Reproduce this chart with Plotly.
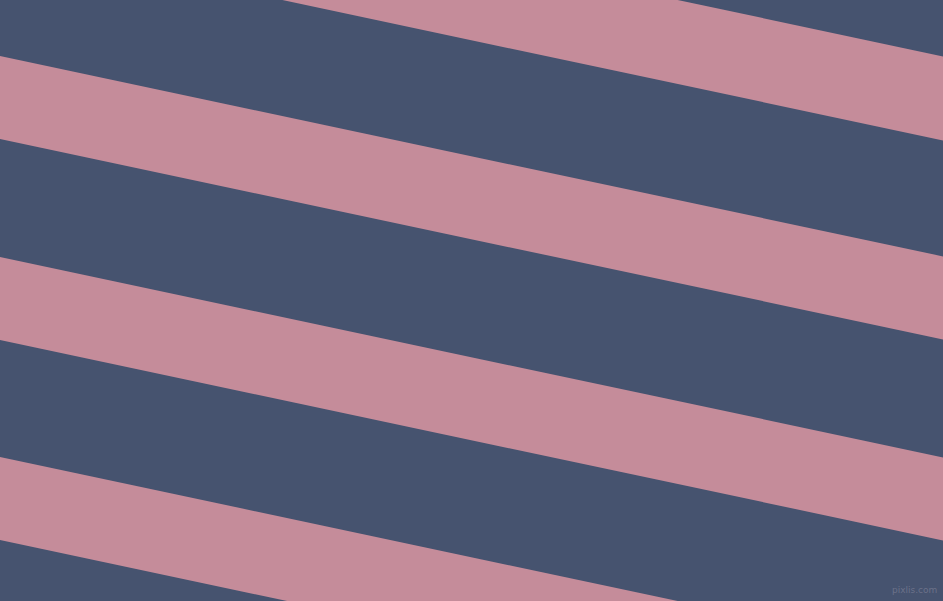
import plotly.graph_objects as go

width_px = 943
height_px = 601
slope = 0.2125
upper_edges = [-144, 56, 257, 457]   # y of each pink band's upper edge at x=0
lower_edges = [-60, 139, 340, 540]   # y of each pink band's lower edge at x=0

navy = "#46536F"
pink = "#C58C9A"

fig = go.Figure()
for top, bottom in zip(upper_edges, lower_edges):
    xs = [0, width_px, width_px, 0, 0]
    ys = [top, top + slope * width_px, bottom + slope * width_px, bottom, top]
    fig.add_trace(go.Scatter(
        x=xs, y=ys, mode="lines", fill="toself",
        fillcolor=pink, line=dict(width=0, color=pink),
        hoverinfo="skip", showlegend=False,
    ))

fig.add_annotation(
    text="pixlis.com", x=width_px - 4, y=height_px - 4,
    xanchor="right", yanchor="bottom", showarrow=False,
    font=dict(family="DejaVu Sans", size=9, color="#6B7189"),
)

fig.update_xaxes(range=[0, width_px], visible=False, fixedrange=True)
fig.update_yaxes(range=[height_px, 0], visible=False, fixedrange=True)
fig.update_layout(
    width=width_px, height=height_px,
    margin=dict(l=0, r=0, t=0, b=0),
    plot_bgcolor=navy, paper_bgcolor=navy,
)

# drop the page's default body margin so the figure sits flush in the window
fig.write_html(
    "out.html",
    config={"displayModeBar": False},
    post_script="document.body.style.margin='0';document.body.style.overflow='hidden';",
)
